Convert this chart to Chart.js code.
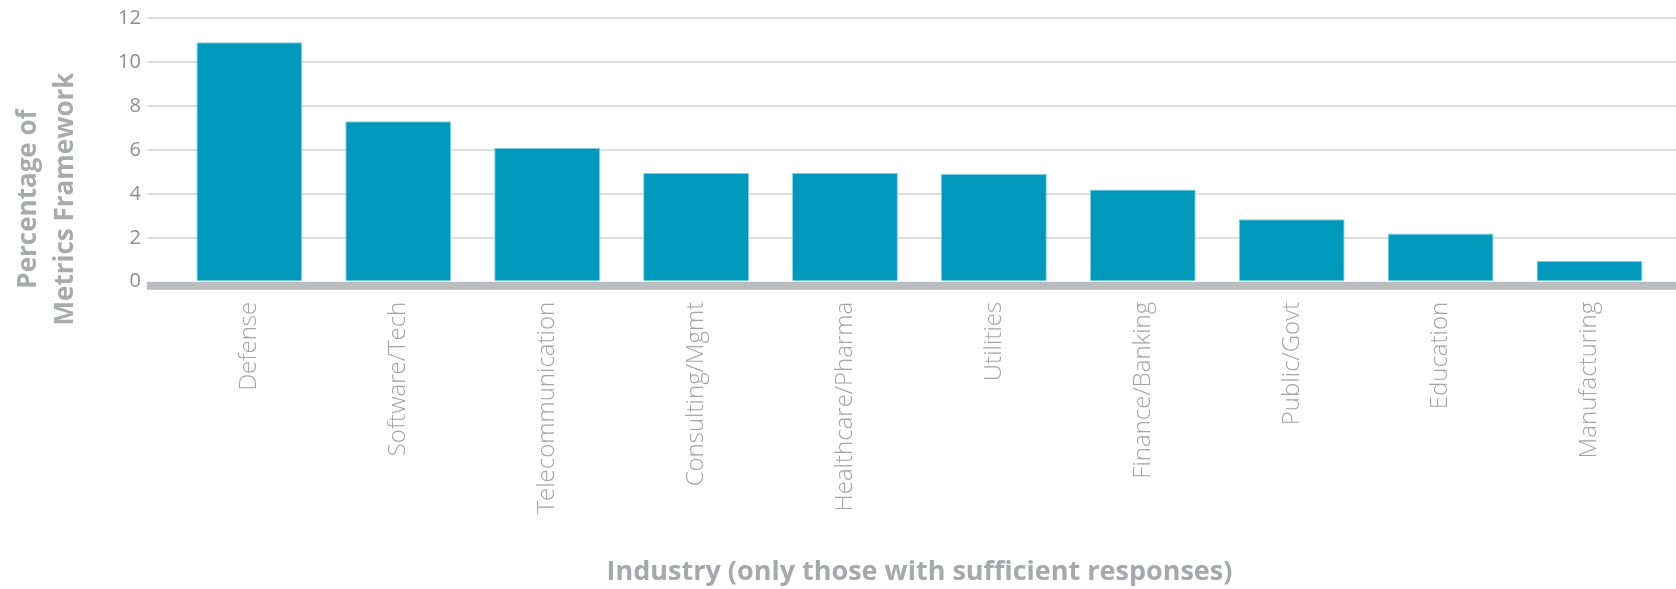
<!DOCTYPE html>
<html>
<head>
<meta charset="utf-8">
<script src="https://cdn.jsdelivr.net/npm/chart.js@4.4.0/dist/chart.umd.min.js"></script>
<style>
  html, body { margin: 0; padding: 0; background: #fff; }
  #wrap { width: 1676px; height: 589px; }
</style>
</head>
<body>
<div id="wrap"><canvas id="myChart"></canvas></div>
<script>
var industries = ["Defense", "Software/Tech", "Telecommunication", "Consulting/Mgmt", "Healthcare/Pharma",
  "Utilities", "Finance/Banking", "Public/Govt", "Education", "Manufacturing"];
var percentages = [10.9, 7.3, 6.1, 4.95, 4.95, 4.9, 4.2, 2.85, 2.2, 0.95];
var yTicks = [0, 2, 4, 6, 8, 10, 12];
var yTitle = ["Percentage of", "Metrics Framework"];
var xTitle = "Industry (only those with sufficient responses)";

var barColor = "#0099bc";
var gridColor = "#dedede";

function fixedTicks(axis) {
  axis.ticks = yTicks.map(function (v) { return { value: v }; });
}

function gridLineColor(ctx) {
  // the zero line is replaced by the grey baseline band
  return ctx.tick && ctx.tick.value === 0 ? "rgba(0,0,0,0)" : gridColor;
}

// thick grey band just under the zero line, across the full width
var baselineBand = {
  id: "baselineBand",
  afterDatasetsDraw: function (chart) {
    var y = chart.scales.y;
    var ctx = chart.ctx;
    var top = y.getPixelForValue(0);
    var left = chart.chartArea.left - y.options.grid.tickLength;
    ctx.save();
    ctx.fillStyle = "#bbbcbf";
    ctx.fillRect(left, top, chart.width - left, 8);
    ctx.restore();
  }
};

// two-line vertical title on the left
var sideTitle = {
  id: "sideTitle",
  afterDraw: function (chart) {
    var ctx = chart.ctx;
    ctx.save();
    ctx.translate(47, 199);
    ctx.rotate(-Math.PI / 2);
    ctx.font = "bold 26px 'Open Sans'";
    ctx.fillStyle = "#a9aaad";
    ctx.textAlign = "center";
    ctx.textBaseline = "middle";
    ctx.fillText(yTitle[0], 0, -18);
    ctx.fillText(yTitle[1], 0, 19);
    ctx.restore();
  }
};

new Chart("myChart", {
  type: "bar",
  data: {
    labels: industries,
    datasets: [{
      data: percentages,
      backgroundColor: barColor,
      borderColor: "#7fcfe0",
      borderWidth: { top: 1, left: 1, right: 1, bottom: 0 },
      borderSkipped: "bottom",
      categoryPercentage: 1,
      barPercentage: 0.711,
      yAxisID: "y"
    }]
  },
  options: {
    responsive: true,
    maintainAspectRatio: false,
    animation: false,
    layout: { padding: { left: 112, top: 12, right: 0, bottom: 0 } },
    plugins: {
      legend: { display: false },
      tooltip: { enabled: false },
      // axis caption as its own bottom box, so the rotated labels keep their room
      title: {
        display: true,
        position: "bottom",
        fullSize: false,
        text: xTitle,
        color: "#a7a8ab",
        font: { family: "'Open Sans'", size: 27, weight: "bold", lineHeight: 1.2 },
        padding: { top: 23, bottom: 0 }
      }
    },
    scales: {
      x: {
        grid: { display: false, drawTicks: false },
        border: { display: false },
        ticks: {
          color: "#a3a4a7",
          font: { family: "'Open Sans'", size: 24, weight: 300 },
          minRotation: 90,
          maxRotation: 90,
          padding: 20,
          autoSkip: false
        }
      },
      y: {
        min: 0,
        max: 12,
        afterBuildTicks: fixedTicks,
        grid: { color: gridLineColor, lineWidth: 2, tickLength: 28 },
        border: { display: false },
        ticks: {
          color: "#8e8e91",
          font: { family: "'Open Sans'", size: 20 },
          padding: 6
        }
      },
      y2: {
        position: "right",
        min: 0,
        max: 12,
        afterBuildTicks: fixedTicks,
        grid: { drawOnChartArea: false, color: gridLineColor, lineWidth: 2, tickLength: 12 },
        border: { display: false },
        ticks: { display: false }
      }
    }
  },
  plugins: [baselineBand, sideTitle]
});
</script>
</body>
</html>
